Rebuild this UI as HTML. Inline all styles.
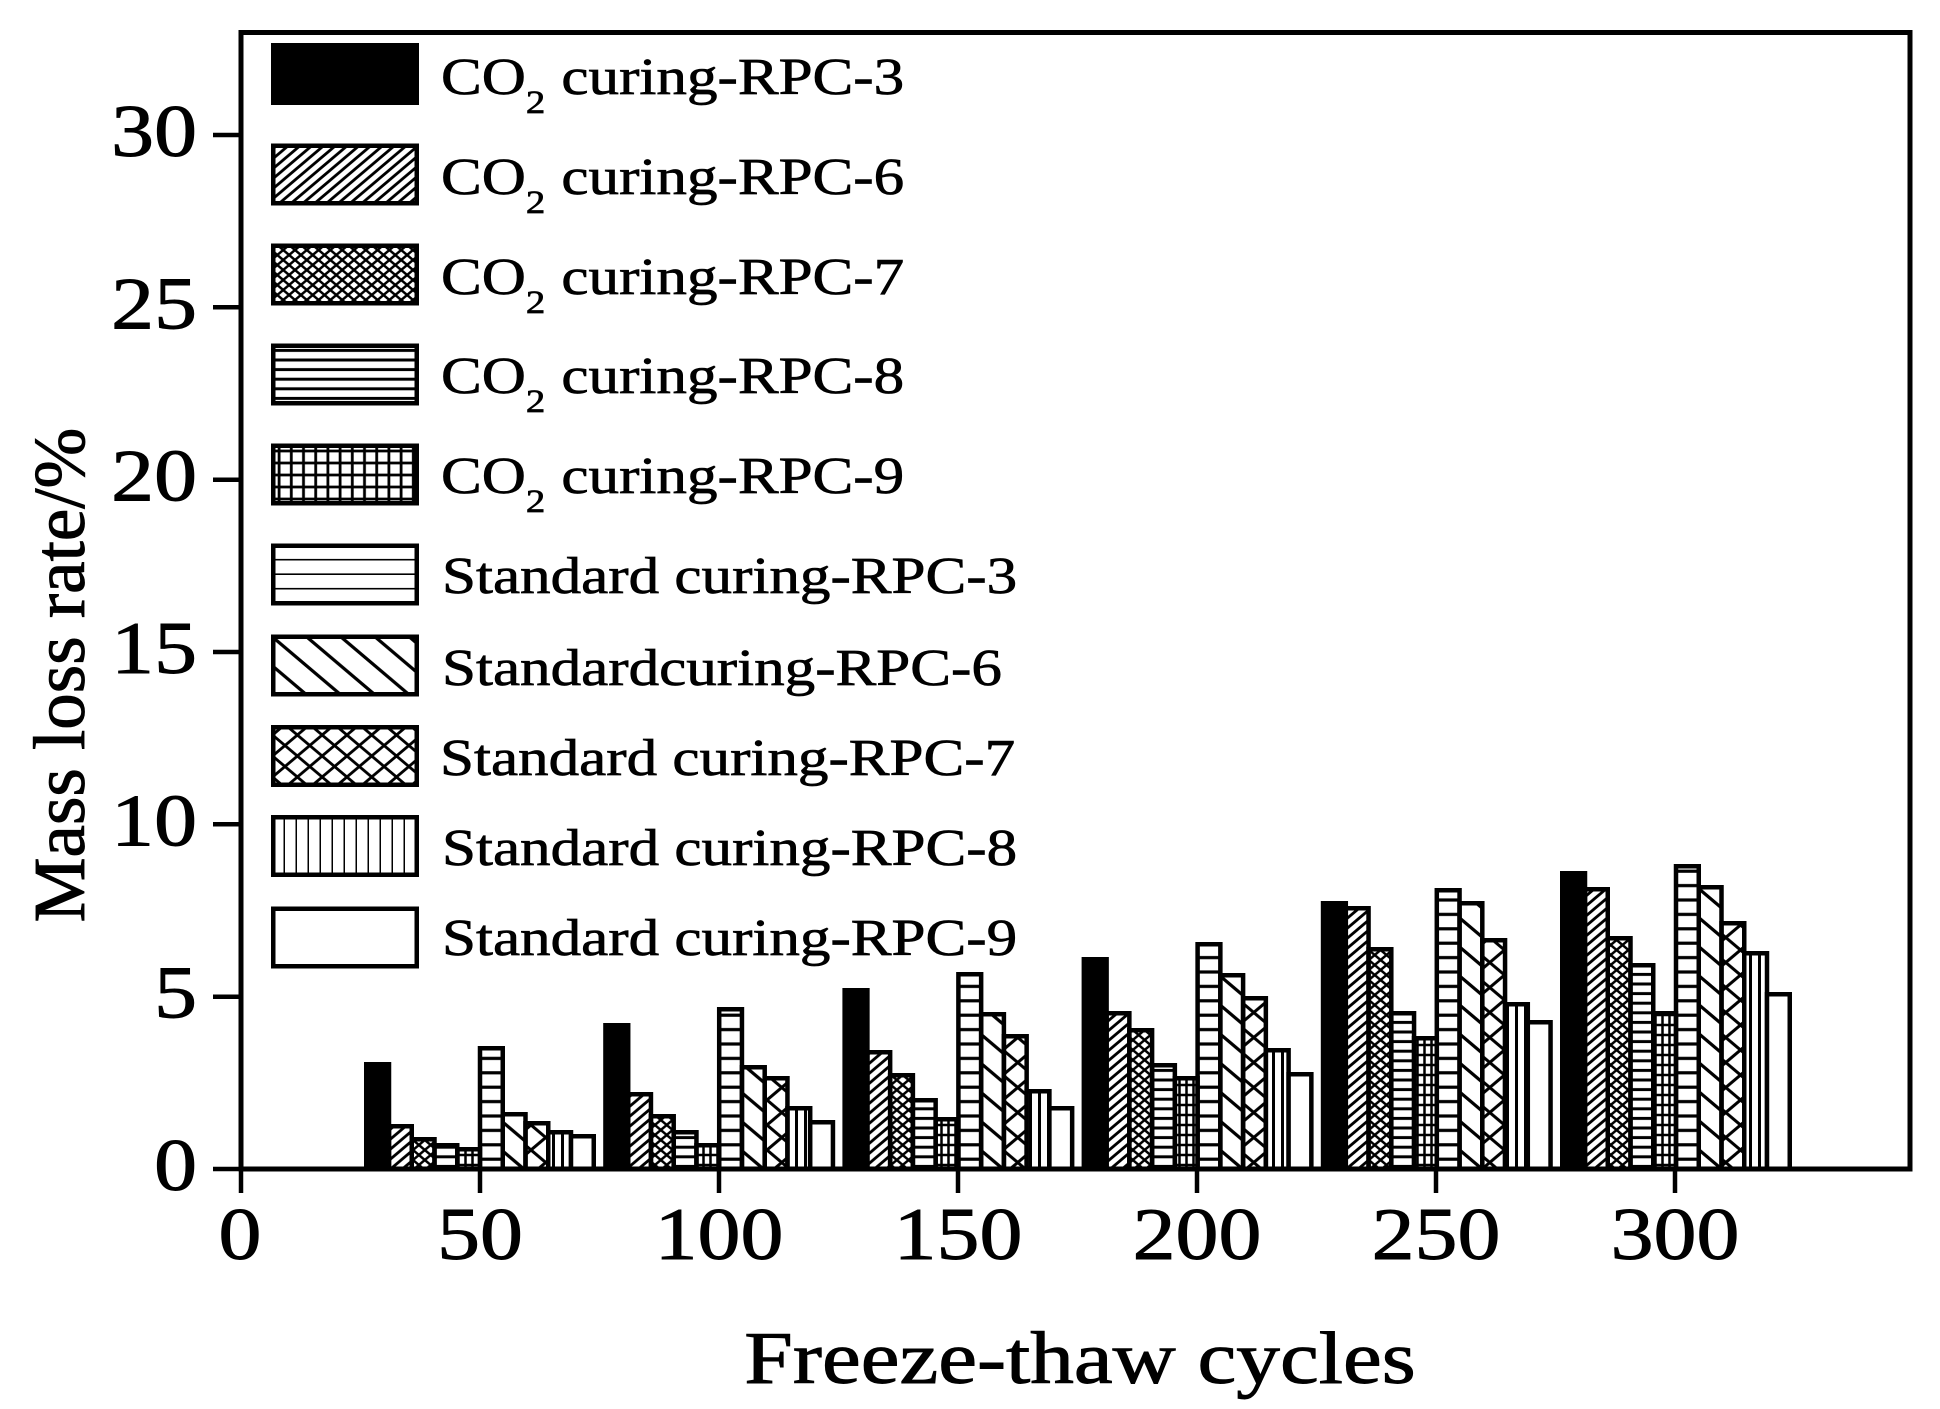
<!DOCTYPE html>
<html>
<head>
<meta charset="utf-8">
<style>
  html,body{margin:0;padding:0;background:#fff;}
  svg{display:block;}
  text{font-family:"Liberation Serif","Times New Roman",serif;fill:#000;}
</style>
</head>
<body>
<svg width="1940" height="1409" viewBox="0 0 1940 1409" xmlns="http://www.w3.org/2000/svg" font-family="Liberation Serif, serif">
<defs>
  <pattern id="p6" width="10" height="10" patternUnits="userSpaceOnUse" patternTransform="scale(1.18,1)">
    <path d="M-2,12 L12,-2 M-2,2 L2,-2 M8,12 L12,8" stroke="#000" stroke-width="2.6" fill="none"/>
  </pattern>
  <pattern id="p7" width="10" height="10" patternUnits="userSpaceOnUse" patternTransform="scale(1.18,1)">
    <path d="M-2,12 L12,-2 M-2,2 L2,-2 M8,12 L12,8 M-2,-2 L12,12 M-2,8 L2,12 M8,-2 L12,2" stroke="#000" stroke-width="2.3" fill="none"/>
  </pattern>
  <pattern id="p8" width="10" height="9.6" patternUnits="userSpaceOnUse">
    <path d="M-1,4.8 H11" stroke="#000" stroke-width="3" fill="none"/>
  </pattern>
  <pattern id="p9" width="7" height="10" patternUnits="userSpaceOnUse">
    <path d="M3.5,-1 V11 M-1,5 H8" stroke="#000" stroke-width="2.5" fill="none"/>
  </pattern>
  <pattern id="lp9" width="12.2" height="12" patternUnits="userSpaceOnUse" x="273" y="445">
    <path d="M6.1,-1 V13 M-1,6 H13" stroke="#000" stroke-width="2.8" fill="none"/>
  </pattern>
  <pattern id="s3" width="10" height="14.4" patternUnits="userSpaceOnUse">
    <path d="M-1,7.2 H11" stroke="#000" stroke-width="3.2" fill="none"/>
  </pattern>
  <pattern id="ls3" width="10" height="14.5" patternUnits="userSpaceOnUse" y="546">
    <path d="M-1,14.5 H11" stroke="#000" stroke-width="3.2" fill="none"/>
  </pattern>
  <pattern id="s6" width="29" height="29" patternUnits="userSpaceOnUse" patternTransform="scale(1.18,1)">
    <path d="M-2,-2 L31,31 M-2,27 L2,31 M27,-2 L31,2" stroke="#000" stroke-width="3" fill="none"/>
  </pattern>
  <pattern id="s7" width="25" height="25" patternUnits="userSpaceOnUse" patternTransform="scale(1.18,1)">
    <path d="M-2,-2 L27,27 M-2,23 L2,27 M23,-2 L27,2 M-2,27 L27,-2 M-2,2 L2,-2 M23,27 L27,23" stroke="#000" stroke-width="2.8" fill="none"/>
  </pattern>
  <pattern id="ls7" width="21" height="21" patternUnits="userSpaceOnUse" patternTransform="scale(1.18,1)">
    <path d="M-2,-2 L23,23 M-2,19 L2,23 M19,-2 L23,2 M-2,23 L23,-2 M-2,2 L2,-2 M19,23 L23,19" stroke="#000" stroke-width="2.6" fill="none"/>
  </pattern>
  <pattern id="s8" width="9" height="10" patternUnits="userSpaceOnUse">
    <path d="M4.5,-1 V11" stroke="#000" stroke-width="3" fill="none"/>
  </pattern>
  <pattern id="ls8" width="12" height="10" patternUnits="userSpaceOnUse" x="273">
    <path d="M12,-1 V11" stroke="#000" stroke-width="3" fill="none"/>
  </pattern>
</defs>

<rect x="0" y="0" width="1940" height="1409" fill="#fff"/>

<g stroke="#000" stroke-width="4.5" stroke-linejoin="miter">
  <rect x="366.25" y="1064.25" width="22.75" height="104.75" fill="#000"/>
  <rect x="389" y="1126.25" width="22.75" height="42.75" fill="url(#p6)"/>
  <rect x="411.75" y="1139.25" width="22.75" height="29.75" fill="url(#p7)"/>
  <rect x="434.5" y="1145.25" width="22.75" height="23.75" fill="url(#p8)"/>
  <rect x="457.25" y="1149.25" width="22.75" height="19.75" fill="url(#p9)"/>
  <rect x="480" y="1048.25" width="22.75" height="120.75" fill="url(#s3)"/>
  <rect x="502.75" y="1114.25" width="22.75" height="54.75" fill="url(#s6)"/>
  <rect x="525.5" y="1123.25" width="22.75" height="45.75" fill="url(#s7)"/>
  <rect x="548.25" y="1132.25" width="22.75" height="36.75" fill="url(#s8)"/>
  <rect x="571" y="1136.25" width="22.75" height="32.75" fill="#fff"/>

  <rect x="605.45" y="1025.25" width="22.75" height="143.75" fill="#000"/>
  <rect x="628.2" y="1094.25" width="22.75" height="74.75" fill="url(#p6)"/>
  <rect x="650.95" y="1116.25" width="22.75" height="52.75" fill="url(#p7)"/>
  <rect x="673.7" y="1132.25" width="22.75" height="36.75" fill="url(#p8)"/>
  <rect x="696.45" y="1145.25" width="22.75" height="23.75" fill="url(#p9)"/>
  <rect x="719.2" y="1009.25" width="22.75" height="159.75" fill="url(#s3)"/>
  <rect x="741.95" y="1067.25" width="22.75" height="101.75" fill="url(#s6)"/>
  <rect x="764.7" y="1078.25" width="22.75" height="90.75" fill="url(#s7)"/>
  <rect x="787.45" y="1108.25" width="22.75" height="60.75" fill="url(#s8)"/>
  <rect x="810.2" y="1122.25" width="22.75" height="46.75" fill="#fff"/>

  <rect x="844.65" y="990.25" width="22.75" height="178.75" fill="#000"/>
  <rect x="867.4" y="1052.25" width="22.75" height="116.75" fill="url(#p6)"/>
  <rect x="890.15" y="1075.25" width="22.75" height="93.75" fill="url(#p7)"/>
  <rect x="912.9" y="1100.25" width="22.75" height="68.75" fill="url(#p8)"/>
  <rect x="935.65" y="1119.25" width="22.75" height="49.75" fill="url(#p9)"/>
  <rect x="958.4" y="974.25" width="22.75" height="194.75" fill="url(#s3)"/>
  <rect x="981.15" y="1014.25" width="22.75" height="154.75" fill="url(#s6)"/>
  <rect x="1003.9" y="1036.25" width="22.75" height="132.75" fill="url(#s7)"/>
  <rect x="1026.65" y="1091.25" width="22.75" height="77.75" fill="url(#s8)"/>
  <rect x="1049.4" y="1108.25" width="22.75" height="60.75" fill="#fff"/>

  <rect x="1083.85" y="959.25" width="22.75" height="209.75" fill="#000"/>
  <rect x="1106.6" y="1013.25" width="22.75" height="155.75" fill="url(#p6)"/>
  <rect x="1129.35" y="1030.25" width="22.75" height="138.75" fill="url(#p7)"/>
  <rect x="1152.1" y="1065.25" width="22.75" height="103.75" fill="url(#p8)"/>
  <rect x="1174.85" y="1078.25" width="22.75" height="90.75" fill="url(#p9)"/>
  <rect x="1197.6" y="944.25" width="22.75" height="224.75" fill="url(#s3)"/>
  <rect x="1220.35" y="975.25" width="22.75" height="193.75" fill="url(#s6)"/>
  <rect x="1243.1" y="998.25" width="22.75" height="170.75" fill="url(#s7)"/>
  <rect x="1265.85" y="1050.25" width="22.75" height="118.75" fill="url(#s8)"/>
  <rect x="1288.6" y="1074.25" width="22.75" height="94.75" fill="#fff"/>

  <rect x="1323.05" y="903.25" width="22.75" height="265.75" fill="#000"/>
  <rect x="1345.8" y="908.25" width="22.75" height="260.75" fill="url(#p6)"/>
  <rect x="1368.55" y="949.25" width="22.75" height="219.75" fill="url(#p7)"/>
  <rect x="1391.3" y="1013.25" width="22.75" height="155.75" fill="url(#p8)"/>
  <rect x="1414.05" y="1038.25" width="22.75" height="130.75" fill="url(#p9)"/>
  <rect x="1436.8" y="890.25" width="22.75" height="278.75" fill="url(#s3)"/>
  <rect x="1459.55" y="903.25" width="22.75" height="265.75" fill="url(#s6)"/>
  <rect x="1482.3" y="940.25" width="22.75" height="228.75" fill="url(#s7)"/>
  <rect x="1505.05" y="1004.25" width="22.75" height="164.75" fill="url(#s8)"/>
  <rect x="1527.8" y="1022.25" width="22.75" height="146.75" fill="#fff"/>

  <rect x="1562.25" y="873.25" width="22.75" height="295.75" fill="#000"/>
  <rect x="1585" y="889.25" width="22.75" height="279.75" fill="url(#p6)"/>
  <rect x="1607.75" y="938.25" width="22.75" height="230.75" fill="url(#p7)"/>
  <rect x="1630.5" y="965.25" width="22.75" height="203.75" fill="url(#p8)"/>
  <rect x="1653.25" y="1013.25" width="22.75" height="155.75" fill="url(#p9)"/>
  <rect x="1676" y="866.25" width="22.75" height="302.75" fill="url(#s3)"/>
  <rect x="1698.75" y="887.25" width="22.75" height="281.75" fill="url(#s6)"/>
  <rect x="1721.5" y="923.25" width="22.75" height="245.75" fill="url(#s7)"/>
  <rect x="1744.25" y="953.25" width="22.75" height="215.75" fill="url(#s8)"/>
  <rect x="1767" y="994.25" width="22.75" height="174.75" fill="#fff"/>
</g>

<rect x="241" y="32.5" width="1669" height="1136.5" fill="none" stroke="#000" stroke-width="5"/>

<g stroke="#000" stroke-width="4.5">
  <line x1="213" y1="1169" x2="241" y2="1169"/>
  <line x1="213" y1="996.7" x2="241" y2="996.7"/>
  <line x1="213" y1="824.3" x2="241" y2="824.3"/>
  <line x1="213" y1="652" x2="241" y2="652"/>
  <line x1="213" y1="479.7" x2="241" y2="479.7"/>
  <line x1="213" y1="307.3" x2="241" y2="307.3"/>
  <line x1="213" y1="135" x2="241" y2="135"/>
</g>
<g stroke="#000" stroke-width="4.5">
  <line x1="241" y1="1169" x2="241" y2="1193"/>
  <line x1="480" y1="1169" x2="480" y2="1193"/>
  <line x1="719" y1="1169" x2="719" y2="1193"/>
  <line x1="958" y1="1169" x2="958" y2="1193"/>
  <line x1="1197" y1="1169" x2="1197" y2="1193"/>
  <line x1="1436" y1="1169" x2="1436" y2="1193"/>
  <line x1="1675" y1="1169" x2="1675" y2="1193"/>
</g>

<g font-size="74" text-anchor="end" stroke="#000" stroke-width="0.9">
  <text transform="translate(197,1190) scale(1.16,1)">0</text>
  <text transform="translate(197,1017.7) scale(1.16,1)">5</text>
  <text transform="translate(197,845.3) scale(1.16,1)">10</text>
  <text transform="translate(197,673) scale(1.16,1)">15</text>
  <text transform="translate(197,500.7) scale(1.16,1)">20</text>
  <text transform="translate(197,328.3) scale(1.16,1)">25</text>
  <text transform="translate(197,156) scale(1.16,1)">30</text>
</g>
<g font-size="74" text-anchor="middle" stroke="#000" stroke-width="0.9">
  <text transform="translate(240,1259) scale(1.16,1)">0</text>
  <text transform="translate(480,1259) scale(1.16,1)">50</text>
  <text transform="translate(719,1259) scale(1.16,1)">100</text>
  <text transform="translate(958,1259) scale(1.16,1)">150</text>
  <text transform="translate(1197,1259) scale(1.16,1)">200</text>
  <text transform="translate(1436,1259) scale(1.16,1)">250</text>
  <text transform="translate(1675,1259) scale(1.16,1)">300</text>
</g>

<text transform="translate(1080,1383) scale(1.18,1)" font-size="74" text-anchor="middle" stroke="#000" stroke-width="0.9">Freeze-thaw cycles</text>
<text transform="translate(84,675) rotate(-90)" font-size="73" text-anchor="middle" stroke="#000" stroke-width="0.9">Mass loss rate/%</text>

<g stroke="#000" stroke-width="4.5">
  <rect x="273.25" y="45.25" width="143.5" height="57.5" fill="#000"/>
  <rect x="273.25" y="145.75" width="143.5" height="57.5" fill="url(#p6)"/>
  <rect x="273.25" y="245.75" width="143.5" height="57.5" fill="url(#p7)"/>
  <rect x="273.25" y="345.75" width="143.5" height="57.5" fill="url(#p8)"/>
  <rect x="273.25" y="445.75" width="143.5" height="57.5" fill="url(#lp9)"/>
  <rect x="273.25" y="545.75" width="143.5" height="57.5" fill="url(#ls3)"/>
  <rect x="273.25" y="636.75" width="143.5" height="57.5" fill="url(#s6)"/>
  <rect x="273.25" y="727.25" width="143.5" height="57.5" fill="url(#ls7)"/>
  <rect x="273.25" y="817.25" width="143.5" height="57.5" fill="url(#ls8)"/>
  <rect x="273.25" y="908.75" width="143.5" height="57.5" fill="#fff"/>
</g>

<g font-size="52" stroke="#000" stroke-width="0.7">
  <text transform="translate(441,94) scale(1.175,1)">CO<tspan font-size="33" dy="19">2</tspan><tspan x="102.5" dy="-19">curing-RPC-3</tspan></text>
  <text transform="translate(441,194) scale(1.175,1)">CO<tspan font-size="33" dy="19">2</tspan><tspan x="102.5" dy="-19">curing-RPC-6</tspan></text>
  <text transform="translate(441,294) scale(1.175,1)">CO<tspan font-size="33" dy="19">2</tspan><tspan x="102.5" dy="-19">curing-RPC-7</tspan></text>
  <text transform="translate(441,393) scale(1.175,1)">CO<tspan font-size="33" dy="19">2</tspan><tspan x="102.5" dy="-19">curing-RPC-8</tspan></text>
  <text transform="translate(441,493) scale(1.175,1)">CO<tspan font-size="33" dy="19">2</tspan><tspan x="102.5" dy="-19">curing-RPC-9</tspan></text>
  <text transform="translate(442,593) scale(1.175,1)">Standard curing-RPC-3</text>
  <text transform="translate(442,685) scale(1.175,1)">Standardcuring-RPC-6</text>
  <text transform="translate(440,775) scale(1.175,1)">Standard curing-RPC-7</text>
  <text transform="translate(442,865) scale(1.175,1)">Standard curing-RPC-8</text>
  <text transform="translate(442,955) scale(1.175,1)">Standard curing-RPC-9</text>
</g>
</svg>
</body>
</html>
